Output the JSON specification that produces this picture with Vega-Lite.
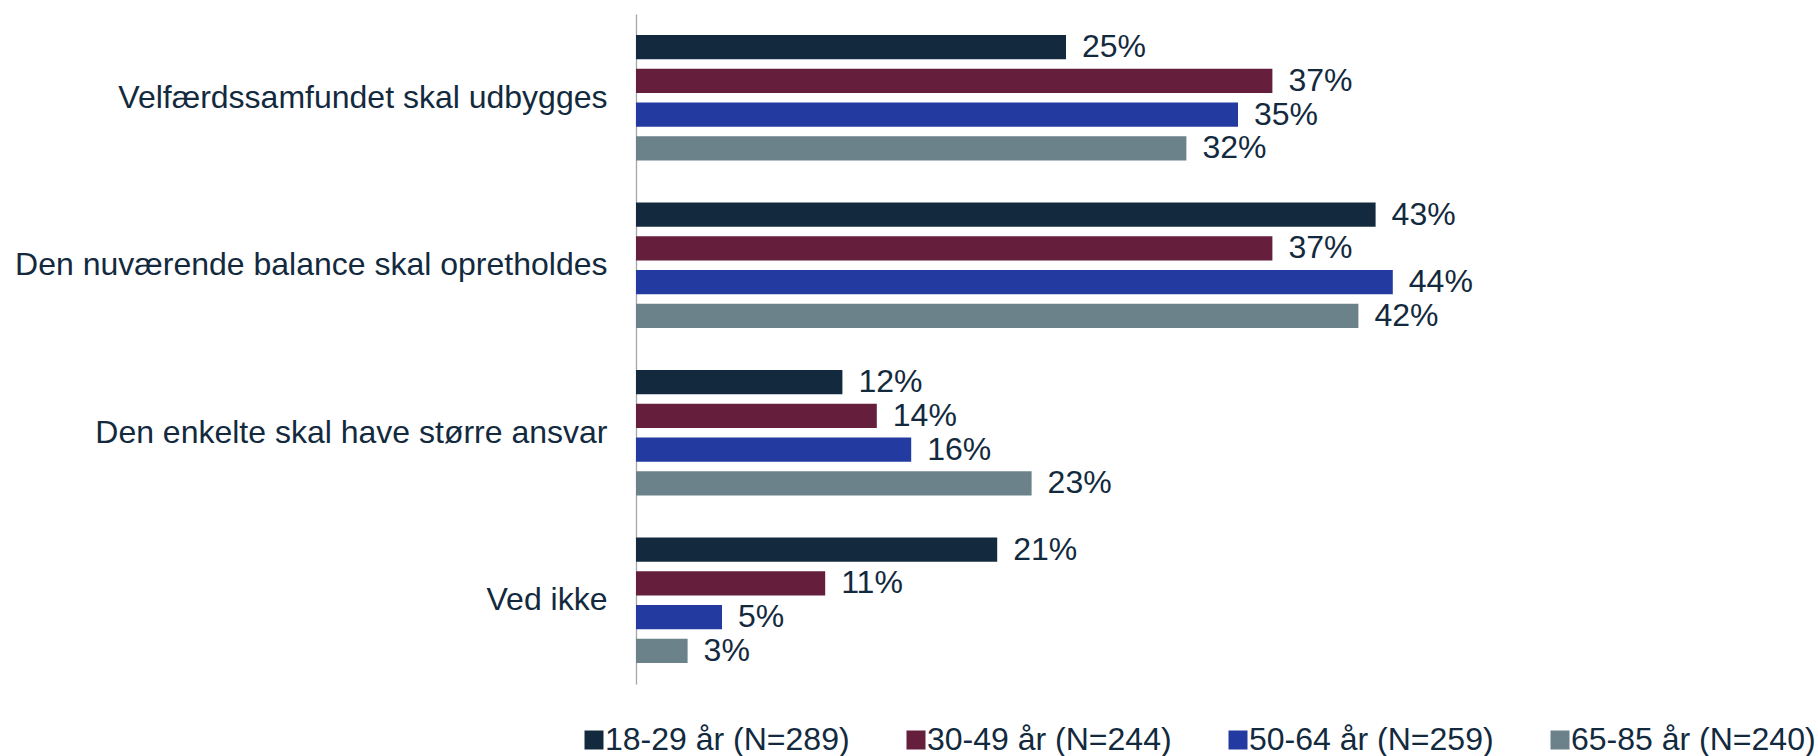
{
  "$schema": "https://vega.github.io/schema/vega-lite/v6.json",
  "autosize": "none",
  "width": 860,
  "height": 670,
  "padding": {"left": 636, "top": 14, "right": 322, "bottom": 72},
  "background": "white",
  "config": {
    "view": {"stroke": null},
    "font": "Liberation Sans",
    "text": {"font": "Liberation Sans"}
  },
  "data": {
    "values": [
      {"kategori": "Velfærdssamfundet skal udbygges", "gruppe": "18-29 år (N=289)", "andel": 0.25},
      {"kategori": "Velfærdssamfundet skal udbygges", "gruppe": "30-49 år (N=244)", "andel": 0.37},
      {"kategori": "Velfærdssamfundet skal udbygges", "gruppe": "50-64 år (N=259)", "andel": 0.35},
      {"kategori": "Velfærdssamfundet skal udbygges", "gruppe": "65-85 år (N=240)", "andel": 0.32},
      {"kategori": "Den nuværende balance skal opretholdes", "gruppe": "18-29 år (N=289)", "andel": 0.43},
      {"kategori": "Den nuværende balance skal opretholdes", "gruppe": "30-49 år (N=244)", "andel": 0.37},
      {"kategori": "Den nuværende balance skal opretholdes", "gruppe": "50-64 år (N=259)", "andel": 0.44},
      {"kategori": "Den nuværende balance skal opretholdes", "gruppe": "65-85 år (N=240)", "andel": 0.42},
      {"kategori": "Den enkelte skal have større ansvar", "gruppe": "18-29 år (N=289)", "andel": 0.12},
      {"kategori": "Den enkelte skal have større ansvar", "gruppe": "30-49 år (N=244)", "andel": 0.14},
      {"kategori": "Den enkelte skal have større ansvar", "gruppe": "50-64 år (N=259)", "andel": 0.16},
      {"kategori": "Den enkelte skal have større ansvar", "gruppe": "65-85 år (N=240)", "andel": 0.23},
      {"kategori": "Ved ikke", "gruppe": "18-29 år (N=289)", "andel": 0.21},
      {"kategori": "Ved ikke", "gruppe": "30-49 år (N=244)", "andel": 0.11},
      {"kategori": "Ved ikke", "gruppe": "50-64 år (N=259)", "andel": 0.05},
      {"kategori": "Ved ikke", "gruppe": "65-85 år (N=240)", "andel": 0.03}
    ]
  },
  "encoding": {
    "y": {
      "field": "kategori",
      "type": "nominal",
      "sort": null,
      "scale": {"paddingInner": 0.25, "paddingOuter": 0.125},
      "axis": {
        "title": null,
        "ticks": false,
        "grid": false,
        "domain": true,
        "domainColor": "#a6a6a6",
        "domainWidth": 1.3,
        "labelFontSize": 32,
        "labelColor": "#132a3e",
        "labelPadding": 29,
        "labelLimit": 800,
        "labelFont": "Liberation Sans"
      }
    },
    "yOffset": {
      "field": "gruppe",
      "type": "nominal",
      "sort": null,
      "scale": {"paddingInner": 0.28, "paddingOuter": 0}
    },
    "x": {
      "field": "andel",
      "type": "quantitative",
      "scale": {"domain": [0, 0.5], "nice": false, "zero": true},
      "axis": null
    }
  },
  "layer": [
    {
      "mark": {"type": "bar"},
      "encoding": {
        "color": {
          "field": "gruppe",
          "type": "nominal",
          "sort": null,
          "scale": {
            "domain": ["18-29 år (N=289)", "30-49 år (N=244)", "50-64 år (N=259)", "65-85 år (N=240)"],
            "range": ["#132a3e", "#651f3c", "#233ba0", "#6b828a"]
          },
          "legend": {
            "title": null,
            "orient": "none",
            "direction": "horizontal",
            "legendX": -58,
            "legendY": 710,
            "symbolType": "square",
            "symbolSize": 361,
            "symbolStrokeWidth": 0,
            "labelFontSize": 32,
            "labelColor": "#132a3e",
            "labelFont": "Liberation Sans",
            "labelOffset": -5,
            "labelLimit": 400,
            "columnPadding": 50
          }
        }
      }
    },
    {
      "mark": {"type": "text", "align": "left", "baseline": "middle", "dx": 16, "fontSize": 32, "color": "#132a3e", "font": "Liberation Sans"},
      "encoding": {
        "text": {"field": "andel", "type": "quantitative", "format": ".0%"}
      }
    }
  ]
}
